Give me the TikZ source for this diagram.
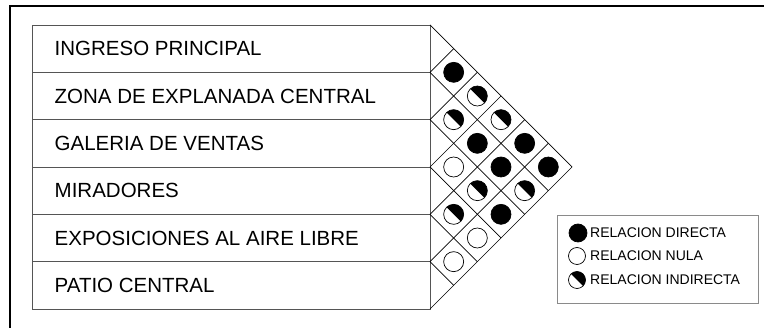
\documentclass[tikz,border=0pt]{standalone}
\usepackage{fontspec}
\setmainfont{Liberation Sans}
\definecolor{tablegray}{HTML}{555555}
\definecolor{leggray}{HTML}{8A8A8A}
\begin{document}
\begin{tikzpicture}[x=1pt,y=-1pt,
  rowbox/.style={draw=tablegray, line width=0.9pt, minimum width=398pt, minimum height=47.333pt, inner sep=0pt, outer sep=0pt},
  lbl/.style={anchor=west, font=\fontsize{20.5}{22}\selectfont, inner sep=0pt},
  leglbl/.style={anchor=west, font=\fontsize{14}{15}\selectfont, inner sep=0pt},
  rel/.style={circle, draw=black, line width=0.7pt, minimum size=20pt, inner sep=0pt},
  directa/.style={rel, fill=black},
  nula/.style={rel, fill=white},
  indirecta/.style={rel, fill=white, path picture={\fill[black] (path picture bounding box.north west) -- (path picture bounding box.north east) -- (path picture bounding box.south east) -- cycle;}},
  gridline/.style={draw=black, line width=0.7pt}]
\useasboundingbox (0,0) rectangle (764,328);
% outer frame
\coordinate (fbl) at (10,328);
\coordinate (ftl) at (10,6);
\coordinate (ftr) at (764,6);
\draw[line width=1.6pt] (fbl) -- (ftl) -- (ftr);
% rows
\foreach \i/\t in {1/INGRESO PRINCIPAL, 2/ZONA DE EXPLANADA CENTRAL, 3/GALERIA DE VENTAS, 4/MIRADORES, 5/EXPOSICIONES AL AIRE LIBRE, 6/PATIO CENTRAL} {
  \node[rowbox] (r\i) at (231, {25+47.333*(\i-0.5)}) {};
  \node[lbl] (t\i) at (54.5, {25+47.333*(\i-0.5)}) {\t};
}
% grid
\foreach \k in {0,...,6} { \coordinate (b\k) at (430, {25+47.333*\k}); }
\coordinate (apex) at (572, 167);
\draw[gridline] (b0) -- (apex) -- (b6);
\foreach \k in {1,...,5} {
  \draw[gridline] (b\k) -- ++({(309-(25+47.333*\k))/2}, {(309-(25+47.333*\k))/2});
  \draw[gridline] (b\k) -- ++({(25+47.333*\k-25)/2}, {-(25+47.333*\k-25)/2});
}
% relations
\foreach \i/\j/\s in {1/2/directa, 1/3/indirecta, 1/4/indirecta, 1/5/directa, 1/6/directa,
                      2/3/indirecta, 2/4/directa, 2/5/directa, 2/6/indirecta,
                      3/4/nula, 3/5/indirecta, 3/6/directa,
                      4/5/indirecta, 4/6/nula,
                      5/6/nula} {
  \node[\s] (c\i\j) at ({430+(\j-\i)*23.667}, {25+47.333*((\i+\j)/2-0.5)}) {};
}
% legend
\node[draw=leggray, line width=0.9pt, minimum width=201pt, minimum height=88pt, inner sep=0pt] (leg) at (657.5, 259) {};
\node[directa, minimum size=18pt] (ld) at (578, 233) {};
\node[leglbl] (ldt) at (590, 233) {RELACION DIRECTA};
\node[nula, minimum size=17pt] (ln) at (577, 256) {};
\node[leglbl] (lnt) at (590, 256) {RELACION NULA};
\node[indirecta, minimum size=17pt] (li) at (577, 280) {};
\node[leglbl] (lit) at (590, 280) {RELACION INDIRECTA};
\end{tikzpicture}
\end{document}
